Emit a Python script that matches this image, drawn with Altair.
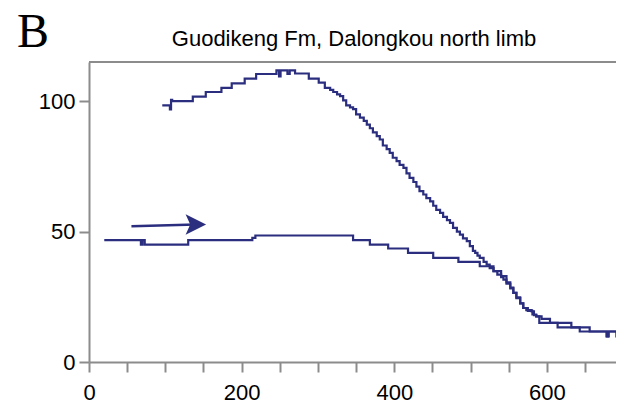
import altair as alt
import pandas as pd

# ---- data ----
upper_x = [96, 106, 107.5, 109, 136, 153, 173.5, 187, 204, 219, 245.6, 249, 251, 260, 263, 270,
           288, 301, 309, 316, 320, 325, 329, 333, 337, 342, 346, 350, 355, 360, 364, 368, 372,
           377, 381, 385, 390, 394, 398, 403, 407, 412, 416, 420, 425, 429, 433, 438, 442, 447,
           451, 455, 460, 464, 469, 473, 477, 482, 486, 490, 495, 499, 503, 506, 509, 512, 517,
           521, 525, 530, 535, 540, 543, 547, 552, 556, 560, 565, 569, 573, 580, 583, 586, 593,
           604, 632, 656, 678, 680, 691, 693, 700]
upper_y = [98.4, 96.8, 100.5, 100.0, 101.7, 103.5, 105.1, 106.8, 108.6, 110.4, 111.8, 109.5, 111.8,
           110.4, 111.8, 110.6, 108.6, 107.1, 105.1, 104.3, 103.5, 102.6, 101.9, 100.3, 98.4, 97.6,
           96.9, 94.9, 93.7, 92.4, 91.0, 89.6, 88.0, 86.6, 85.3, 83.0, 81.6, 80.2, 78.3, 77.0, 75.6,
           74.4, 72.3, 70.6, 69.0, 67.2, 65.5, 64.2, 62.8, 61.6, 59.9, 58.3, 57.2, 55.6, 54.4, 53.3,
           51.4, 50.0, 48.8, 47.4, 46.3, 44.4, 42.6, 41.8, 40.8, 39.9, 38.4, 37.3, 36.0, 34.8, 33.5,
           32.5, 31.6, 30.0, 28.2, 26.5, 24.8, 22.5, 20.7, 19.9, 19.4, 18.0, 17.5, 16.5, 15.0, 13.3,
           11.7, 9.8, 11.7, 9.8, 10.3, 10.3]

lower_x = [20, 68, 70, 73, 130, 214, 218, 346, 368, 392, 418, 451, 484, 512, 530, 540, 547, 552,
           556, 560, 565, 569, 575, 581, 586, 590, 614, 643, 679, 681, 694, 700]
lower_y = [46.7, 45.0, 46.7, 45.0, 46.7, 47.6, 48.5, 46.7, 45.0, 43.5, 41.8, 39.9, 38.4, 36.7,
           34.8, 32.9, 30.5, 28.5, 26.5, 24.5, 22.5, 20.7, 19.6, 18.2, 17.5, 15.0, 13.3, 11.7,
           9.8, 11.7, 10.3, 10.3]

arrow_shaft_x = [55.6, 140]
arrow_shaft_y = [52.0, 52.7]
arrow_head_x = [140]
arrow_head_y = [52.7]

x_ticks = list(range(0, 651, 50))
y_ticks = [0, 50, 100]
title_text = "Guodikeng Fm, Dalongkou north limb"
panel_label = "B"

NAVY = "#2b2e7f"
GRAY = "#8c8c8c"
SANS = "Liberation Sans, Arial, sans-serif"
W, H = 527, 300
X_MAX = 690.5  # visible part of the 0-700 axis (reference is cropped at the right)

rows = []
for i, (x, y) in enumerate(zip(upper_x, upper_y)):
    rows.append({"series": "upper", "i": i, "x": x, "y": y})
for i, (x, y) in enumerate(zip(lower_x, lower_y)):
    rows.append({"series": "lower", "i": i, "x": x, "y": y})
df = pd.DataFrame(rows)

x_scale = alt.Scale(domain=[0, X_MAX], nice=False, zero=False)
y_scale = alt.Scale(domain=[0, 115], nice=False)

lines = alt.Chart(df).mark_line(
    interpolate="step-after", color=NAVY, strokeWidth=2.2, clip=True
).encode(
    x=alt.X("x:Q", scale=x_scale, title=None,
            axis=alt.Axis(values=x_ticks, labelExpr="datum.value % 200 === 0 ? datum.label : ''",
                          labelFlush=False, labelOverlap=False, labelPadding=10)),
    y=alt.Y("y:Q", scale=y_scale, title=None,
            axis=alt.Axis(values=y_ticks, labelPadding=4, labelFlush=False, labelOverlap=False)),
    detail="series:N",
    order=alt.Order("i:Q"),
)

shaft_df = pd.DataFrame({"x": [arrow_shaft_x[0]], "y": [arrow_shaft_y[0]],
                         "x2": [arrow_shaft_x[1]], "y2": [arrow_shaft_y[1]]})
shaft = alt.Chart(shaft_df).mark_rule(color=NAVY, strokeWidth=2.5).encode(
    x=alt.X("x:Q", scale=x_scale), y=alt.Y("y:Q", scale=y_scale), x2="x2:Q", y2="y2:Q"
)

head_df = pd.DataFrame({"x": arrow_head_x, "y": arrow_head_y})
head = alt.Chart(head_df).mark_point(
    shape="M-1,-1 L1,0 L-1,1 L-0.55,0 Z", size=420, filled=True, color=NAVY, opacity=1
).encode(x=alt.X("x:Q", scale=x_scale), y=alt.Y("y:Q", scale=y_scale))

one = pd.DataFrame({"t": [title_text], "b": [panel_label]})
top_border = alt.Chart(one).mark_rule(color=GRAY, strokeWidth=2).encode(
    x=alt.value(0), x2=alt.value(W), y=alt.value(0)
)
title = alt.Chart(one).mark_text(
    font=SANS, fontSize=22, color="black", align="center", baseline="alphabetic"
).encode(x=alt.value(265), y=alt.value(-16), text="t:N")
label = alt.Chart(one).mark_text(
    font="Liberation Serif, Times New Roman, serif", fontSize=48, color="black",
    align="left", baseline="alphabetic"
).encode(x=alt.value(-72), y=alt.value(-15), text="b:N")

chart = alt.layer(top_border, lines, shaft, head, title, label).properties(
    width=W, height=H,
    padding={"left": 81, "top": 54, "right": 0, "bottom": 44},
    autosize="none",
).configure_view(stroke=None).configure_axis(
    domainColor=GRAY, domainWidth=2, tickColor=GRAY, tickWidth=2, tickSize=10,
    labelFont=SANS, labelFontSize=22, labelColor="black", grid=False,
)

chart.save("out.html", embed_options={"renderer": "svg", "actions": False})
